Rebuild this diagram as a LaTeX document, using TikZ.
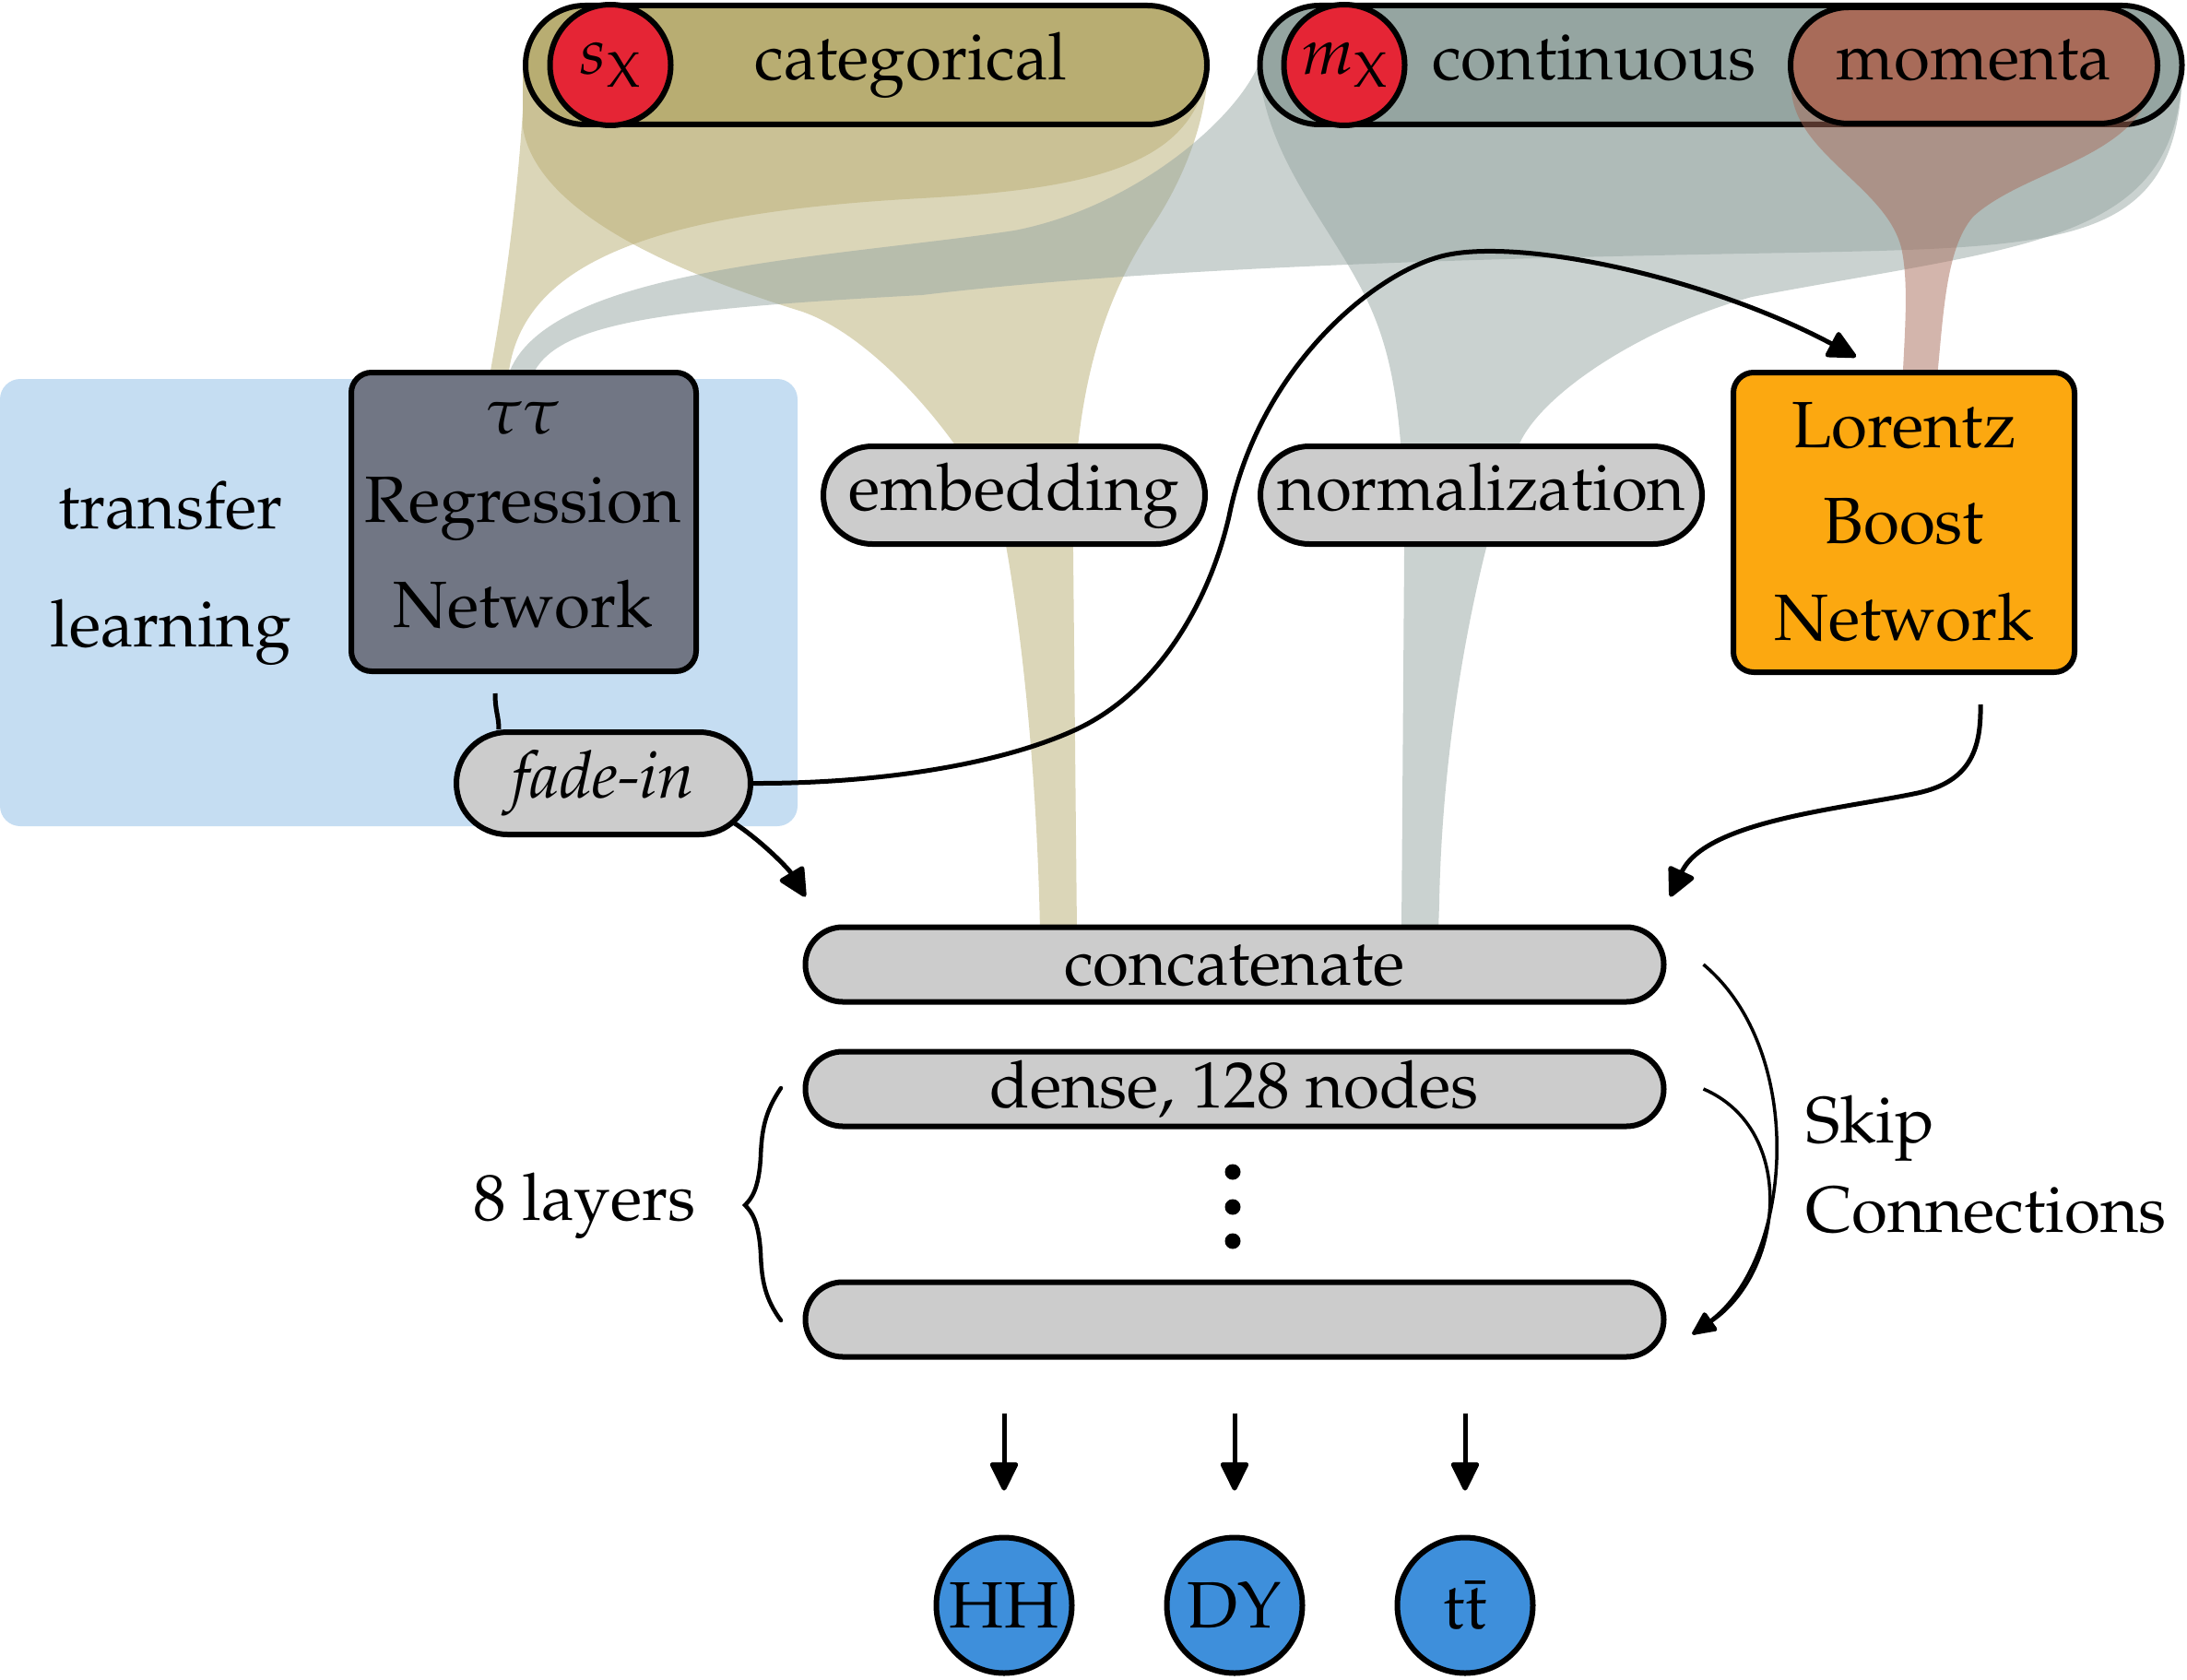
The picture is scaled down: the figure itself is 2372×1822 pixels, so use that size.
\documentclass[tikz,border=0pt]{standalone}
\usepackage[T1]{fontenc}
\usepackage{mathpazo}
\usetikzlibrary{arrows.meta}
\definecolor{catc}{HTML}{B8AD72}
\definecolor{conc}{HTML}{95A5A1}
\definecolor{momc}{HTML}{A86B59}
\definecolor{redc}{HTML}{E52535}
\definecolor{pillc}{HTML}{CCCCCC}
\definecolor{regc}{HTML}{717684}
\definecolor{lorc}{HTML}{FCA810}
\definecolor{outc}{HTML}{3E8FDB}
\definecolor{tlc}{HTML}{C5DDF2}
\begin{document}
\begin{tikzpicture}[x=1pt,y=-1pt,
  font=\fontsize{71}{85}\selectfont,
  bord/.style={draw=black,line width=6pt},
  pill/.style={bord,rectangle,rounded corners=#1,inner sep=0pt},
  boxn/.style={bord,rectangle,rounded corners=22pt,inner sep=0pt},
  dot/.style={bord,circle,inner sep=0pt},
  flow/.style={fill=#1,fill opacity=0.5},
  conn/.style={draw=black,line width=5pt},
  tip/.style={-{Triangle[length=34pt,width=32pt,round]}},
  skiparrow/.style={draw=black,line width=3.5pt,-{Triangle[length=28pt,width=24pt,round]}},
  lbl/.style={anchor=base,inner sep=0pt}]
\useasboundingbox (0,0) rectangle (2372,1822);

% transfer learning background
\fill[tlc,rounded corners=22pt] (0,411) rectangle (865,896);
\node[lbl] (tl1) at (185,573) {transfer};
\node[lbl] (tl2) at (185,701) {learning};

% flows
\fill[flow=catc] (567,70) -- (567,120) .. controls (560,230) and (545,330) .. (532,402) -- (532,420) -- (552,420) -- (552,402)
  .. controls (570,280) and (720,230) .. (1000,215) .. controls (1180,205) and (1300,180) .. (1310,70) -- cycle;
\fill[flow=catc] (567,70) -- (567,138) .. controls (580,220) and (700,285) .. (867,337)
  .. controls (960,366) and (1080,520) .. (1092,597) .. controls (1110,700) and (1125,850) .. (1128,1010)
  -- (1168,1010) -- (1164,600) .. controls (1162,420) and (1200,320) .. (1250,245)
  .. controls (1290,185) and (1310,120) .. (1310,70) -- cycle;
\fill[flow=conc] (1365,70) .. controls (1340,130) and (1230,225) .. (1100,250)
  .. controls (900,280) and (600,290) .. (553,402) -- (553,420) -- (580,420) -- (580,402)
  .. controls (610,350) and (720,335) .. (1000,320) .. controls (1250,290) and (1600,280) .. (1950,274)
  .. controls (2250,268) and (2365,265) .. (2367,70) -- cycle;
\fill[flow=conc] (1365,70) .. controls (1372,170) and (1440,240) .. (1480,320)
  .. controls (1510,380) and (1523,450) .. (1523,600) -- (1520,1010) -- (1560,1010) -- (1561,980)
  .. controls (1565,750) and (1620,540) .. (1650,477) .. controls (1680,420) and (1790,352) .. (1900,322)
  .. controls (2200,265) and (2365,265) .. (2367,70) -- cycle;

% top pills
\node[pill=64.5pt,fill=catc,minimum width=739pt,minimum height=129pt] (cat) at (939.5,70.5) {};
\node[dot,fill=redc,minimum size=131pt] (sx) at (662,70.5) {$s_{\mathrm{X}}$};
\node[lbl] (cattxt) at (988,87) {categorical};
\node[pill=64.5pt,fill=conc,minimum width=1000pt,minimum height=129pt] (con) at (1866.5,70.5) {};
\node[dot,fill=redc,minimum size=131pt] (mx) at (1458,70.5) {$m_{\mathrm{X}}$};
\node[lbl] (contxt) at (1729,87) {continuous};
\fill[flow=momc] (1943,70) -- (1943,100) .. controls (1950,170) and (2050,205) .. (2063,273)
  .. controls (2070,310) and (2066,360) .. (2063,420) -- (2100,420)
  .. controls (2108,340) and (2110,270) .. (2140,235) .. controls (2200,180) and (2337,170) .. (2337,70) -- cycle;
\node[pill=63pt,fill=momc,minimum width=398pt,minimum height=126pt] (mom) at (2141,71) {};
\node[lbl] (momtxt) at (2141,87) {momenta};

% networks
\node[boxn,fill=regc,minimum width=374pt,minimum height=324pt] (reg) at (568,566) {};
\node[lbl] (reg1) at (567,470) {$\tau\tau$};
\node[lbl] (reg2) at (567,566) {Regression};
\node[lbl] (reg3) at (567,680) {Network};
\node[boxn,fill=lorc,minimum width=370pt,minimum height=325pt] (lor) at (2065,566.5) {};
\node[lbl] (lor1) at (2065,485) {Lorentz};
\node[lbl] (lor2) at (2065,589) {Boost};
\node[lbl] (lor3) at (2065,694) {Network};

% preprocessing
\node[pill=53pt,fill=pillc,minimum width=414pt,minimum height=106pt] (emb) at (1100,537) {};
\node[lbl] (embtxt) at (1100,553) {embedding};
\node[pill=53pt,fill=pillc,minimum width=479pt,minimum height=106pt] (norm) at (1606.5,537) {};
\node[lbl] (normtxt) at (1607,553) {normalization};
\node[pill=55.5pt,fill=pillc,minimum width=319pt,minimum height=111pt] (fade) at (654.5,849.5) {\textit{fade-in}};

% layers
\node[pill=40.5pt,fill=pillc,minimum width=931pt,minimum height=81pt] (concat) at (1339,1046) {};
\node[lbl] (concattxt) at (1339,1068) {concatenate};
\node[pill=40.5pt,fill=pillc,minimum width=931pt,minimum height=81pt] (dense) at (1339,1181) {};
\node[lbl] (densetxt) at (1339,1201) {dense, 128 nodes};
\node[pill=40.5pt,fill=pillc,minimum width=931pt,minimum height=81pt] (last) at (1339,1431) {};
\node[circle,fill=black,minimum size=17pt,inner sep=0pt] (d1) at (1337,1271) {};
\node[circle,fill=black,minimum size=17pt,inner sep=0pt] (d2) at (1337,1309) {};
\node[circle,fill=black,minimum size=17pt,inner sep=0pt] (d3) at (1337,1346) {};

% brace and labels
\draw[line width=4.5pt,line cap=round] (847,1180) .. controls (830,1205) and (826,1225) .. (825,1255)
  .. controls (823,1290) and (815,1300) .. (808,1307) .. controls (815,1314) and (823,1324) .. (825,1359)
  .. controls (826,1389) and (830,1409) .. (847,1432);
\node[lbl] (layers) at (634,1323) {8 layers};
\node[lbl,anchor=base west] (skip1) at (1958,1239) {Skip};
\node[lbl,anchor=base west] (skip2) at (1958,1336) {Connections};

% outputs
\node[dot,fill=outc,minimum size=147pt] (hh) at (1089,1741) {HH};
\node[dot,fill=outc,minimum size=147pt] (dy) at (1339,1741) {DY};
\node[dot,fill=outc,minimum size=147pt] (tt) at (1589,1741) {t$\bar{\mathrm{t}}$};

% connectors
\draw[conn] ([shift={(-31pt,-21pt)}]reg.south) .. controls +(0,20) and +(0,-15) .. ([xshift=49pt]fade.north west);
\draw[conn,tip] (fade.east) .. controls (950,850) and (1080,830) .. (1163,793)
  .. controls (1250,755) and (1310,660) .. (1333,560)
  .. controls (1365,400) and (1490,295) .. (1567,277)
  .. controls (1650,258) and (1850,300) .. ([shift={(136pt,14pt)}]lor.north west);
\draw[conn,tip] ([shift={(-20pt,15pt)}]fade.south east) .. controls +(30,20) and +(-18,-30) .. ([shift={(3pt,30pt)}]concat.north west);
\draw[conn,tip] ([shift={(-105pt,-32pt)}]lor.south east) .. controls (2149,815) and (2135,848) .. (2080,860)
  .. controls (2000,877) and (1850,890) .. ([shift={(4pt,30pt)}]concat.north east);
\draw[skiparrow] ([xshift=40pt]concat.east) .. controls (1960,1140) and (1945,1365) .. ([shift={(28pt,-16pt)}]last.east);
\draw[skiparrow] ([xshift=40pt]dense.east) .. controls (1950,1225) and (1935,1380) .. ([shift={(28pt,-16pt)}]last.east);
\foreach \n in {hh,dy,tt}
  \draw[conn,tip] ([yshift=132pt]\n.north) -- ([yshift=48pt]\n.north);
\end{tikzpicture}
\end{document}
